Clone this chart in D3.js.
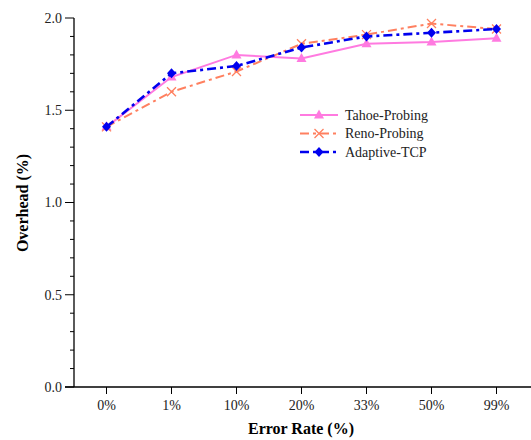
<!DOCTYPE html>
<html><head><meta charset="utf-8">
<script src="https://cdn.jsdelivr.net/npm/d3@7"></script>
<style>body{margin:0;background:#fff}svg{display:block}text{font-family:"Liberation Serif","Times New Roman",serif}</style>
</head><body>
<svg id="c" width="531" height="440"></svg>
<script>
const categories = ["0%","1%","10%","20%","33%","50%","99%"];
const tahoe = [1.41,1.68,1.80,1.78,1.86,1.87,1.89];
const reno = [1.41,1.60,1.71,1.86,1.91,1.97,1.94];
const adaptive = [1.41,1.70,1.74,1.84,1.90,1.92,1.94];
const yTicks = [0,0.5,1.0,1.5,2.0];
const seriesNames = ["Tahoe-Probing","Reno-Probing","Adaptive-TCP"];

(function(){
const svg = d3.select("#c");
const mLeft = 74, mRight = 529, mTop = 18, mBottom = 387;
const x = d3.scaleBand().domain(categories).range([mLeft, mRight]);
const xc = d => x(d) + x.bandwidth()/2;
const y = d3.scaleLinear().domain([0,2]).range([mBottom, mTop]);

// y axis
const gy = svg.append("g").attr("transform",`translate(${mLeft},0)`);
gy.append("line").attr("x1",0).attr("x2",0).attr("y1",mTop).attr("y2",mBottom).attr("stroke","#000").attr("stroke-width",1.3);
d3.range(0,2.0001,0.1).forEach(v=>{
  const major = Math.abs(v*2 - Math.round(v*2))<1e-6;
  gy.append("line").attr("x1",major?-9:-4).attr("x2",0).attr("y1",y(v)).attr("y2",y(v)).attr("stroke","#000").attr("stroke-width",1);
});
yTicks.forEach(v=>{
  gy.append("text").attr("x",-12).attr("y",y(v)).attr("dy","0.35em").attr("text-anchor","end")
    .attr("font-size",14).attr("fill","#222").text(v.toFixed(1));
});
// x axis
const gx = svg.append("g");
gx.append("line").attr("x1",mLeft-9).attr("x2",531).attr("y1",mBottom).attr("y2",mBottom).attr("stroke","#000").attr("stroke-width",1.3);
categories.forEach(c=>{
  gx.append("line").attr("x1",xc(c)).attr("x2",xc(c)).attr("y1",mBottom).attr("y2",mBottom+7).attr("stroke","#000");
  gx.append("text").attr("x",xc(c)).attr("y",mBottom+23).attr("text-anchor","middle").attr("font-size",14).attr("fill","#222").text(c);
});
svg.append("text").attr("x",301).attr("y",434).attr("text-anchor","middle").attr("font-size",16).attr("font-weight","bold").text("Error Rate (%)");
svg.append("text").attr("transform","translate(28,203) rotate(-90)").attr("text-anchor","middle").attr("font-size",16).attr("font-weight","bold").text("Overhead (%)");

const styles = [
  {data:tahoe, color:"#ff7ae0", dash:null, w:2, marker:"tri"},
  {data:reno, color:"#ff8060", dash:"9,4,3,4", w:2, marker:"x"},
  {data:adaptive, color:"#0000ee", dash:"9,4,3,4", w:2.6, marker:"dia"}
];
function drawMarker(g, type, cx, cy, color){
  if(type==="tri"){
    g.append("path").attr("d",`M${cx},${cy-5.5}L${cx+5},${cy+3.5}L${cx-5},${cy+3.5}Z`).attr("fill",color);
  } else if(type==="x"){
    g.append("path").attr("d",`M${cx-4.5},${cy-4.5}L${cx+4.5},${cy+4.5}M${cx-4.5},${cy+4.5}L${cx+4.5},${cy-4.5}`).attr("stroke",color).attr("stroke-width",1.3).attr("fill","none");
  } else {
    g.append("path").attr("d",`M${cx},${cy-5}L${cx+4.5},${cy}L${cx},${cy+5}L${cx-4.5},${cy}Z`).attr("fill",color);
  }
}
const line = d3.line().x((d,i)=>xc(categories[i])).y(d=>y(d));
styles.forEach(s=>{
  const g = svg.append("g");
  g.append("path").datum(s.data).attr("d",line).attr("fill","none").attr("stroke",s.color).attr("stroke-width",s.w).attr("stroke-dasharray",s.dash);
  s.data.forEach((v,i)=>drawMarker(g,s.marker,xc(categories[i]),y(v),s.color));
});
// legend
const lg = svg.append("g");
styles.forEach((s,i)=>{
  const ly = 115 + i*18.5;
  lg.append("line").attr("x1",300).attr("x2",338).attr("y1",ly).attr("y2",ly).attr("stroke",s.color).attr("stroke-width",s.w).attr("stroke-dasharray",s.dash);
  drawMarker(lg,s.marker,319,ly,s.color);
  lg.append("text").attr("x",345).attr("y",ly).attr("dy","0.35em").attr("font-size",14).attr("fill","#222").text(seriesNames[i]);
});
})();
</script>
</body></html>
